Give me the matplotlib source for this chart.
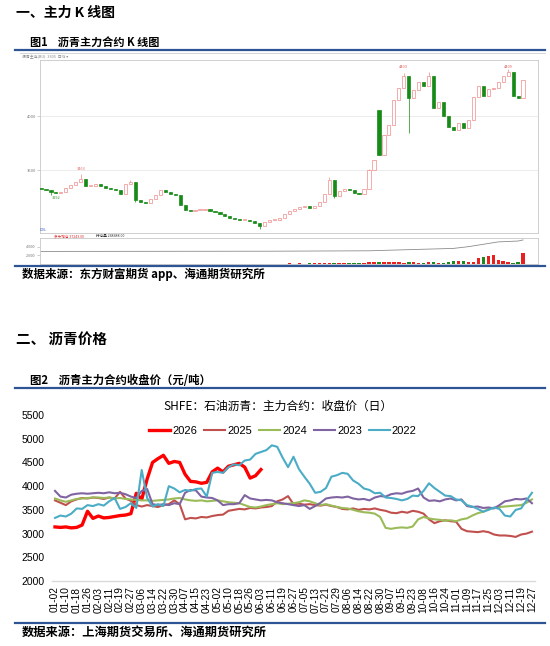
import numpy as np
import matplotlib
matplotlib.use("Agg")
import matplotlib.pyplot as plt
from matplotlib.lines import Line2D
from matplotlib.patches import Rectangle

plt.rcParams['font.family'] = ['Noto Sans CJK SC', 'DejaVu Sans']
plt.rcParams['axes.unicode_minus'] = False

W, H = 550, 646
BLUE = '#2F5496'
NUM = ['Liberation Sans', 'DejaVu Sans']

# ---------------- 图1 K线数据（日K，读图估计） ----------------
k_first_open = 3330
k_close = [3324, 3315, 3296, 3287, 3296, 3333, 3361, 3389, 3417, 3352,
           3352, 3370, 3352, 3333, 3324, 3315, 3278, 3370, 3389, 3222,
           3204, 3194, 3231, 3268, 3315, 3296, 3278, 3268, 3176, 3130,
           3120, 3130, 3130, 3139, 3120, 3111, 3093, 3074, 3055, 3046,
           3037, 3037, 3028, 3009, 2981, 3018, 3037, 3037, 3055, 3093,
           3120, 3139, 3157, 3167, 3148, 3167, 3204, 3278, 3407, 3259,
           3306, 3324, 3315, 3287, 3278, 3324, 3500, 3593, 3639, 3824,
           3917, 4148, 4259, 4370, 4167, 4241, 4315, 4278, 4370, 4074,
           4130, 4000, 3898, 3870, 3935, 3889, 3963, 4176, 4278, 4185,
           4250, 4259, 4315, 4370, 4407, 4185, 4167, 4333]
k_gap_open = {68: 4056}
k_high = {8: 3460, 18: 3410, 58: 3440, 66: 3510, 73: 4400, 78: 4410, 94: 4440}
k_low = {2: 3270, 19: 3200, 44: 2955, 59: 3240, 74: 3840}
k_marks = [(73, 4403, '4403', '#E06060'), (94, 4409, '4409', '#E06060'),
           (8, 3463, '3463', '#E06060'), (3, 3292, '3292', '#3A8A3A'),
           (44, 2902, '2902', '#3A8A3A')]
k_volume = [600, 400, 500, 300, 400, 700, 500, 600, 800, 500,
            300, 400, 300, 500, 400, 300, 600, 700, 900, 800,
            500, 400, 500, 600, 500, 400, 300, 400, 700, 600,
            400, 300, 400, 300, 500, 400, 300, 400, 500, 400,
            300, 400, 300, 500, 800, 600, 500, 400, 600, 800,
            1200, 900, 1500, 1000, 1800, 1200, 1600, 2400, 3000, 2500,
            1800, 1400, 1600, 1200, 2000, 1500, 3500, 4500, 4000, 3800,
            4200, 3500, 4800, 3000, 4200, 3600, 3200, 2800, 4000, 3500,
            2500, 3000, 3800, 6500, 7000, 6000, 4000, 5000, 14000, 16000,
            18000, 20000, 9000, 6000, 5000, 3000, 4000, 26000]
oi_idx = [0, 46, 66, 83, 86, 92, 96, 97]
oi_val = [29000, 29500, 30500, 36000, 40000, 51000, 53000, 55500]

# ---------------- 图2 收盘价数据（元/吨，半个刻度间隔取一点） ----------------
date_labels = ['01-02', '01-10', '01-18', '01-26', '02-03', '02-11', '02-19', '02-27',
               '03-06', '03-14', '03-22', '03-30', '04-07', '04-15', '04-23', '05-02',
               '05-10', '05-18', '05-26', '06-03', '06-11', '06-19', '06-27', '07-05',
               '07-13', '07-21', '07-29', '08-06', '08-14', '08-22', '08-30', '09-07',
               '09-15', '09-23', '10-08', '10-16', '10-24', '11-01', '11-09', '11-17',
               '11-25', '12-03', '12-11', '12-19', '12-27']
y2026 = [3140, 3130, 3140, 3120, 3130, 3180, 3470, 3320, 3370, 3330,
         3340, 3360, 3380, 3390, 3420, 3850, 3720, 4150, 4500, 4580,
         4650, 4480, 4520, 4500, 4250, 4100, 4090, 4060, 4080, 4300,
         4380, 4300, 4420, 4450, 4480, 4400, 4170, 4220, 4350]
y2025 = [3700, 3650, 3600, 3680, 3720, 3750, 3740, 3760, 3750, 3730,
         3760, 3740, 3880, 3740, 3690, 3600, 3570, 3600, 3580, 3560,
         3600, 3620, 3700, 3620, 3300, 3330, 3320, 3350, 3340, 3370,
         3390, 3400, 3480, 3500, 3520, 3510, 3540, 3530, 3550, 3560,
         3580, 3680, 3720, 3790, 3620, 3630, 3610, 3620, 3600, 3590,
         3610, 3580, 3560, 3520, 3510, 3530, 3500, 3520, 3510, 3530,
         3500, 3480, 3440, 3430, 3460, 3440, 3480, 3460, 3420, 3300,
         3220, 3260, 3280, 3260, 3250, 3100, 3050, 3040, 3030, 3050,
         3030, 2980, 2960, 2960, 2950, 2930, 2980, 3000, 3040]
y2024 = [3740, 3700, 3670, 3700, 3730, 3740, 3750, 3760, 3760, 3750,
         3760, 3740, 3750, 3730, 3720, 3710, 3700, 3700, 3690, 3700,
         3710, 3720, 3740, 3750, 3720, 3700, 3690, 3700, 3680, 3690,
         3700, 3680, 3660, 3650, 3640, 3600, 3560, 3550, 3570, 3600,
         3620, 3640, 3620, 3630, 3640, 3660, 3700, 3680, 3640, 3600,
         3620, 3590, 3560, 3540, 3530, 3500, 3470, 3450, 3440, 3420,
         3350, 3120, 3100, 3120, 3130, 3120, 3150, 3300, 3350, 3320,
         3300, 3290, 3270, 3280, 3260, 3300, 3320, 3380, 3430, 3460,
         3520, 3540, 3560, 3570, 3580, 3590, 3600, 3650, 3720]
y2023 = [3900, 3780, 3760, 3820, 3840, 3850, 3840, 3850, 3860, 3850,
         3870, 3850, 3860, 3830, 3780, 3750, 3900, 3940, 3620, 3600,
         3620, 3600, 3640, 3620, 3860, 3920, 3910, 3780, 3760, 3750,
         3700, 3600, 3620, 3620, 3640, 3810, 3740, 3720, 3700, 3710,
         3700, 3660, 3640, 3620, 3600, 3580, 3600, 3520, 3580, 3650,
         3740, 3760, 3770, 3760, 3780, 3740, 3720, 3730, 3700, 3760,
         3790, 3780, 3830, 3850, 3840, 3880, 3900, 3950, 3760, 3690,
         3700, 3680, 3720, 3740, 3700, 3720, 3580, 3560, 3570, 3540,
         3550, 3530, 3600, 3680, 3700, 3730, 3720, 3740, 3640]
y2022 = [3330, 3380, 3360, 3420, 3530, 3520, 3600, 3580, 3620, 3590,
         3680, 3750, 3520, 3560, 3640, 3540, 4340, 3750, 3570, 3620,
         3580, 4000, 3950, 3870, 3920, 3900, 3940, 3950, 3780, 4280,
         4300, 4280, 4400, 4460, 4440, 4540, 4560, 4680, 4720, 4760,
         4860, 4830, 4600, 4400, 4620, 4360, 4200, 4050, 3860, 3880,
         3960, 4200, 4230, 4280, 4260, 4120, 4050, 3950, 3920, 3850,
         3860, 3760, 3750, 3730, 3700, 3730, 3800, 3790, 3900, 4060,
         3960, 3880, 3800, 3790, 3720, 3700, 3600, 3570, 3520, 3460,
         3500, 3550, 3520, 3380, 3360, 3500, 3530, 3700, 3860]
series = [('2026', y2026, '#FF0000', 2.4), ('2025', y2025, '#C0504D', 1.5),
          ('2024', y2024, '#9BBB59', 1.5), ('2023', y2023, '#8064A2', 1.5),
          ('2022', y2022, '#4BACC6', 1.5)]


def box(x0, y0, x1, y1):
    return [x0 / W, 1 - y1 / H, (x1 - x0) / W, (y1 - y0) / H]


def fx(x):
    return x / W


def fy(y):
    return 1 - y / H


def hline(fig, y, x0=15, x1=545, color=BLUE, lw=1.6):
    fig.add_artist(Line2D([fx(x0), fx(x1)], [fy(y), fy(y)], transform=fig.transFigure,
                          color=color, lw=lw))


fig = plt.figure(figsize=(W / 100, H / 100), dpi=100)

# 标题
fig.text(fx(16), fy(13), '一、主力 K 线图', fontsize=10, fontweight='bold', va='center')
fig.text(fx(30), fy(43), '图1    沥青主力合约 K 线图', fontsize=8, fontweight='bold', va='center')
hline(fig, 50)

# K线截图框
hline(fig, 52.5, 20, 545, '#CCCCCC', 0.6)
fig.text(fx(22), fy(57), '沥青主连(BU)  3305  日线 ▾', fontsize=2.8, color='#888888', va='center')

ax_k = fig.add_axes(box(40, 60, 538, 233))
ax_k.set_xlim(-0.2, 100.0)
ax_k.set_ylim(2917, 4520)
for sp in ax_k.spines.values():
    sp.set_color('#C8C8C8')
    sp.set_linewidth(0.6)
ax_k.set_xticks([])
ax_k.set_yticks([3500, 4000])
ax_k.set_yticklabels(['3500', '4000'], fontsize=3, color='#777777')
ax_k.tick_params(axis='y', length=2, width=0.4, color='#AAAAAA', pad=1)
ax_k.grid(axis='y', color='#E4E4E4', lw=0.5)
ax_k.set_axisbelow(True)

prev = k_first_open
for i, c in enumerate(k_close):
    o = k_gap_open.get(i, prev)
    lo_b, hi_b = min(o, c), max(o, c)
    hi = k_high.get(i, hi_b)
    lo = k_low.get(i, lo_b)
    up = c >= o
    col = '#F08C8C' if up else '#178A17'
    ax_k.vlines(i, lo, hi, color=col, lw=0.5, zorder=2)
    ax_k.add_patch(Rectangle((i - 0.32, lo_b), 0.64, max(hi_b - lo_b, 6),
                             facecolor='white' if up else col, edgecolor=col,
                             lw=0.5, zorder=3))
    prev = c
for i, v, s, col in k_marks:
    off = 30 if v > 3400 else -30
    ax_k.text(i, v + off, s, fontsize=2.8, color=col, ha='center',
              va='bottom' if off > 0 else 'top')

fig.text(fx(40), fy(230), 'DDL', fontsize=2.6, color='#3355CC', va='center')
fig.text(fx(54), fy(236), '多头增仓 37243.00', fontsize=2.6, color='#E03030', va='center')
fig.text(fx(96), fy(236), '持仓量 248488.00', fontsize=2.6, color='#333333', va='center')

ax_v = fig.add_axes(box(40, 238, 538, 264))
ax_v.set_xlim(-0.2, 100.0)
ax_v.set_ylim(0, 60000)
for sp in ax_v.spines.values():
    sp.set_color('#C8C8C8')
    sp.set_linewidth(0.6)
ax_v.set_xticks([])
ax_v.set_yticks([20000, 40000])
ax_v.set_yticklabels(['20000', '40000'], fontsize=2.6, color='#777777')
ax_v.tick_params(axis='y', length=2, width=0.4, color='#AAAAAA', pad=1)
vol_colors = []
prev = k_first_open
for i, c in enumerate(k_close):
    o = k_gap_open.get(i, prev)
    vol_colors.append('#E82020' if c >= o else '#1E8A1E')
    prev = c
ax_v.bar(range(len(k_volume)), k_volume, width=0.7, color=vol_colors)
ax_v.plot(oi_idx, oi_val, color='#8C8C8C', lw=0.6)

hline(fig, 266)
fig.text(fx(22), fy(274), '数据来源：东方财富期货 app、海通期货研究所', fontsize=8.3, fontweight='bold', va='center')

# ---------------- 二、沥青价格 ----------------
fig.text(fx(16), fy(340), '二、 沥青价格', fontsize=10.5, fontweight='bold', va='center')
fig.text(fx(30), fy(381), '图2    沥青主力合约收盘价（元/吨）', fontsize=8.2, fontweight='bold', va='center')
hline(fig, 387.5)

x0_px, step_px = 55, 10.84
xl = (-0.3, 44.3)
ax = fig.add_axes(box(x0_px + xl[0] * step_px, 415, x0_px + xl[1] * step_px, 581))
ax.set_xlim(*xl)
ax.set_ylim(2000, 5500)
for name, vals, col, lw in series:
    ax.plot(np.arange(len(vals)) * 0.5, vals, color=col, lw=lw, label=name)

for s in ['top', 'right', 'left']:
    ax.spines[s].set_visible(False)
ax.spines['bottom'].set_color('#D9D9D9')
ax.spines['bottom'].set_linewidth(1.0)
ax.set_yticks(range(2000, 5501, 500))
ax.set_yticklabels([str(v) for v in range(2000, 5501, 500)], fontsize=7.5, family=NUM)
ax.set_xticks(range(len(date_labels)))
ax.set_xticklabels(date_labels, rotation=90, fontsize=7.3, family=NUM)
ax.tick_params(axis='both', length=0)
ax.tick_params(axis='y', pad=5)
ax.tick_params(axis='x', pad=4)

fig.text(fx(278), fy(406), 'SHFE：石油沥青：主力合约：收盘价（日）', fontsize=8.5,
         ha='center', va='center')
ax.legend(loc='center', bbox_to_anchor=(fx(283), fy(431)), bbox_transform=fig.transFigure,
          ncol=5, frameon=False, prop={'family': NUM, 'size': 8},
          handlelength=1.9, handletextpad=0.2, columnspacing=0.6)

hline(fig, 623)
fig.text(fx(22), fy(632), '数据来源：上海期货交易所、海通期货研究所', fontsize=8.8, fontweight='bold', va='center')

fig.savefig('out.png', dpi=100)
